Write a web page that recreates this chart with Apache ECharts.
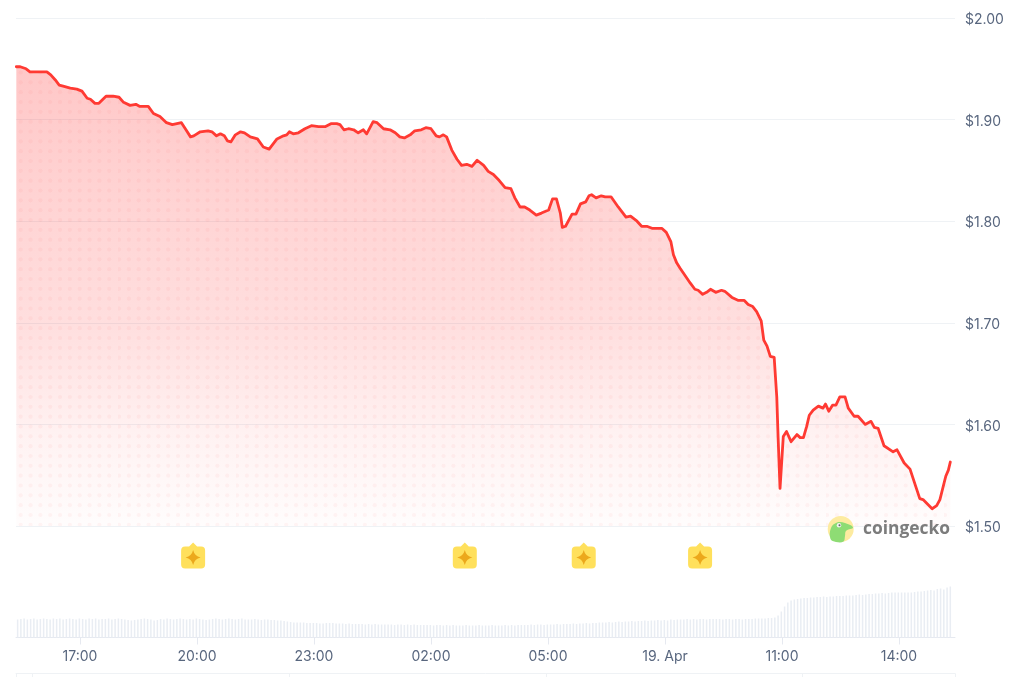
<!DOCTYPE html>
<html>
<head>
<meta charset="utf-8">
<style>html,body{margin:0;padding:0;background:#fff}#c{width:1024px;height:677px}</style>
<script src="https://cdn.jsdelivr.net/npm/echarts@6/dist/echarts.min.js"></script>
</head>
<body>
<div id="c"></div>
<script>
// minutes counted from 00:00 on 18 April
const priceTimes = [922,928,937,943,951,958,969,975,982,988,994,1005,1015,1023,1031,1036,1043,1049,1060,1071,1080,1087,1097,1106,1112,1125,1133,1143,1153,1162,1169,1176,1183,1190,1195,1205,1217,1223,1230,1236,1242,1247,1252,1259,1267,1273,1282,1293,1302,1311,1323,1333,1338,1342,1348,1356,1366,1376,1387,1397,1406,1415,1420,1426,1433,1441,1448,1456,1461,1471,1477,1487,1497,1505,1512,1519,1528,1535,1545,1552,1560,1568,1573,1579,1584,1592,1600,1607,1615,1623,1631,1641,1648,1656,1665,1674,1683,1689,1697,1704,1712,1722,1730,1741,1747,1753,1759,1762,1767,1777,1783,1790,1798,1803,1807,1814,1822,1828,1837,1848,1853,1860,1867,1877,1884,1892,1900,1915,1922,1929,1933,1938,1943,1959,1966,1971,1978,1984,1990,1998,2007,2012,2023,2033,2042,2048,2055,2061,2068,2072,2077,2082,2088,2092,2094,2097,2102,2107,2114,2117,2123,2128,2133,2138,2142,2148,2156,2163,2167,2172,2178,2183,2189,2197,2202,2211,2217,2228,2237,2242,2248,2257,2271,2277,2288,2297,2312,2317,2331,2338,2343,2352,2356,2359];
const prices = [1.952,1.952,1.950,1.947,1.947,1.947,1.947,1.944,1.939,1.934,1.933,1.931,1.930,1.928,1.921,1.920,1.916,1.916,1.923,1.923,1.922,1.917,1.914,1.915,1.913,1.913,1.906,1.903,1.897,1.895,1.896,1.897,1.890,1.883,1.884,1.888,1.889,1.888,1.884,1.886,1.884,1.879,1.878,1.885,1.888,1.887,1.883,1.881,1.873,1.871,1.881,1.884,1.885,1.888,1.886,1.887,1.891,1.894,1.893,1.893,1.896,1.896,1.895,1.890,1.891,1.890,1.887,1.890,1.886,1.898,1.897,1.891,1.890,1.887,1.883,1.882,1.885,1.889,1.890,1.892,1.891,1.884,1.883,1.885,1.883,1.870,1.861,1.855,1.856,1.854,1.860,1.855,1.849,1.846,1.840,1.833,1.832,1.823,1.814,1.814,1.811,1.806,1.808,1.811,1.822,1.822,1.808,1.794,1.795,1.807,1.807,1.817,1.819,1.825,1.826,1.823,1.825,1.824,1.824,1.814,1.810,1.804,1.805,1.800,1.795,1.795,1.793,1.793,1.789,1.780,1.767,1.759,1.754,1.739,1.733,1.732,1.728,1.730,1.733,1.730,1.732,1.731,1.725,1.722,1.722,1.718,1.716,1.711,1.702,1.683,1.677,1.667,1.666,1.627,1.588,1.537,1.588,1.593,1.583,1.582,1.590,1.587,1.587,1.598,1.609,1.614,1.618,1.616,1.620,1.613,1.619,1.619,1.627,1.627,1.616,1.608,1.608,1.600,1.603,1.597,1.596,1.579,1.573,1.575,1.562,1.556,1.527,1.526,1.517,1.520,1.526,1.549,1.555,1.563];
const volumes = [
18,18.5,19,18,18.5,19,18,18.5,19,18.5,18,19,
18.5,19,18,18.5,19,18.5,18,19,18.5,18,19,18.5,
19,18,18.5,18.5,19,18,18.5,19,18.5,18,17.5,17,
17.5,18,18.5,19,18.5,18,17,17.5,18.5,18,19,18.5,
18,18.5,19,18.5,18,18.5,18,19,18.5,18,17.5,18,
18.5,19,18.5,18,18.5,19,18.5,18,18.5,19,18,18,
18,18.5,18,17.5,18,18,17.5,17.5,17,17,16.5,16,
15.5,15,15,15,15,14.5,14.5,14.5,14.5,14,14,14.5,
14.5,14.5,14,14,14,13.5,14,13.5,13.5,13.5,13.5,13,
13.5,13,13.5,13,13,13,13,13,12.5,13,13,12.5,
13,12.5,13,12.5,12.5,12.5,12.5,12.5,12,12.5,12.5,12,
12.5,12,12.5,12,12,12,12.5,12,12,12,12.5,12,
12,12,12.5,12,12,12,12.5,12,12.5,12,12.5,12.5,
12.5,12.5,13,12.5,13,13,12.5,13,13,13,13.5,13,
13.5,13.5,13.5,14,13.5,14,14,14.5,14,14.5,14.5,15,
15,15,15.5,15,15.5,16,15.5,16,16,16.5,16,16.5,
16.5,17,16.5,17,17,17.5,17,17.5,17,18,17.5,18,
18,18,18.5,18,18.5,18,18.5,18.5,18,18.5,18.5,18.5,
18.5,18,18.5,18.5,18,18.5,18.5,18,18.5,18.5,18.5,19,
19,19,19,19.5,19.5,20,22,26,31,35,37,38,
38.5,39,39.5,39.5,40,40,40.5,40.5,41,40.5,41,41,
41.5,41.5,41.5,42,42,42,42.5,43,42.5,43,43.5,43.5,
44,44,44.5,44,44.5,45,45,45,45,45,45,45,
45.5,46,46,46.5,47,47.5,47,48.5,49,48,50,51];
const volumeStart = 924, volumeStep = 5;
const eventTimes = [1194,1612,1795,1974];
const tickTimes = [1020,1200,1380,1560,1740,1920,2100,2280];
const tickLabels = ['17:00','20:00','23:00','02:00','05:00','19. Apr','11:00','14:00'];
const navTimes = [922,946,1342,1737,2131,2366];
const axisMin = 921.5, axisMax = 2366.2;

const FONT = 'Inter';
const dots = document.createElement('canvas');
dots.width = 118; dots.height = 118;
(function () {
  const g = dots.getContext('2d');
  g.fillStyle = 'rgba(255,40,40,0.042)';
  for (let i = 0; i < 12; i++) for (let j = 0; j < 12; j++) {
    g.beginPath();
    g.arc(1.04 + i * 118 / 12, 3.65 + j * 118 / 12, 2.1, 0, Math.PI * 2);
    g.fill();
  }
})();

const pricePairs = priceTimes.map((t, i) => [t, prices[i]]);
const volumePairs = volumes.map((v, i) => [volumeStart + i * volumeStep, v]);
const hiddenX = (gridIndex) => ({ type: 'value', gridIndex, min: axisMin, max: axisMax, show: false });
const pin = 'path://M12 0 L16 4 H20 Q24 4 24 8 V22 Q24 26 20 26 H4 Q0 26 0 22 V8 Q0 4 4 4 H8 Z';
const star = 'path://M8 0 Q9.5 6.5 16 8 Q9.5 9.5 8 16 Q6.5 9.5 0 8 Q6.5 6.5 8 0Z';

const chart = echarts.init(document.getElementById('c'), null, { renderer: 'canvas' });
chart.setOption({
  animation: false,
  backgroundColor: '#fff',
  grid: [
    { left: 16, width: 939, top: 18, height: 508 },
    { left: 16, width: 939, top: 540, height: 31 },
    { left: 16, width: 939, top: 585, height: 52.5 },
    { left: 16, width: 939, top: 673.5, height: 4 }
  ],
  xAxis: [
    hiddenX(0),
    hiddenX(1),
    {
      type: 'value', gridIndex: 2, min: axisMin, max: axisMax, position: 'bottom',
      splitLine: { show: false },
      axisLine: { show: true, onZero: false, lineStyle: { color: '#e6e9f0', width: 1 } },
      axisTick: { show: true, length: 7, customValues: tickTimes, lineStyle: { color: '#e6e9f0' } },
      axisLabel: {
        show: true, customValues: tickTimes, margin: 12, hideOverlap: false,
        color: '#58667e', fontFamily: FONT, fontSize: 14,
        formatter: (v) => tickLabels[tickTimes.indexOf(v)]
      }
    },
    {
      type: 'value', gridIndex: 3, min: axisMin, max: axisMax, position: 'top',
      splitLine: { show: false },
      axisLine: { show: true, onZero: false, lineStyle: { color: '#eff2f5', width: 1 } },
      axisTick: { show: true, inside: true, length: 4, customValues: navTimes, lineStyle: { color: '#eff2f5' } },
      axisLabel: { show: false }
    }
  ],
  yAxis: [
    {
      type: 'value', gridIndex: 0, min: 1.5, max: 2, interval: 0.1, position: 'right',
      axisLine: { show: false }, axisTick: { show: false },
      splitLine: { show: true, lineStyle: { color: '#eff2f5', width: 1 } },
      axisLabel: { margin: 10, verticalAlign: 'top', lineHeight: 4, color: '#58667e', fontFamily: FONT, fontSize: 14, formatter: (v) => '$' + v.toFixed(2) }
    },
    { type: 'value', gridIndex: 1, min: 0, max: 1, show: false },
    { type: 'value', gridIndex: 2, min: 0, max: 52.5, show: false },
    { type: 'value', gridIndex: 3, min: 0, max: 1, show: false }
  ],
  series: [
    {
      type: 'line', xAxisIndex: 0, yAxisIndex: 0, data: pricePairs, showSymbol: false, silent: true, z: 2,
      lineStyle: { width: 0 },
      areaStyle: {
        opacity: 1,
        color: new echarts.graphic.LinearGradient(0, 0, 0, 1, [
          { offset: 0, color: 'rgba(255,40,40,0.26)' },
          { offset: 0.57, color: 'rgba(255,40,40,0.15)' },
          { offset: 0.81, color: 'rgba(255,40,40,0.06)' },
          { offset: 1, color: 'rgba(255,40,40,0.01)' }
        ])
      }
    },
    {
      type: 'line', xAxisIndex: 0, yAxisIndex: 0, data: pricePairs, showSymbol: false, silent: true, z: 3,
      lineStyle: { width: 0 },
      areaStyle: { opacity: 1, color: { image: dots, repeat: 'repeat' } }
    },
    {
      type: 'line', xAxisIndex: 0, yAxisIndex: 0, data: pricePairs, showSymbol: false, silent: true, z: 4,
      lineStyle: { color: '#ff3a33', width: 2.8, join: 'round', cap: 'round' }
    },
    {
      type: 'bar', xAxisIndex: 2, yAxisIndex: 2, data: volumePairs, barWidth: 1.5, silent: true,
      itemStyle: { color: '#e9edf3' }
    },
    {
      type: 'scatter', xAxisIndex: 1, yAxisIndex: 1, data: eventTimes.map((t) => [t, 0.5]), silent: true,
      symbol: pin, symbolSize: [24, 26], itemStyle: { color: '#ffe05c', opacity: 1 }, z: 5
    },
    {
      type: 'scatter', xAxisIndex: 1, yAxisIndex: 1, data: eventTimes.map((t) => [t, 0.5]), silent: true,
      symbol: star, symbolSize: 15, symbolOffset: [0, 2], itemStyle: { color: '#eca81c', opacity: 1 }, z: 6
    }
  ],
  graphic: [
    { type: 'circle', z: 20, shape: { cx: 840.7, cy: 529, r: 13 }, style: { fill: '#fdeba0' } },
    { type: 'polygon', z: 21, shape: { smooth: 0.4, points: [[830.5,539],[831,528],[837,522.5],[845,523],[853,527.5],[846,531],[845,536],[843.5,541.5],[836,542]] }, style: { fill: '#8edc74' } },
    { type: 'circle', z: 22, shape: { cx: 839, cy: 525.3, r: 2.2 }, style: { fill: '#f4f4f4' } },
    { type: 'circle', z: 23, shape: { cx: 839.5, cy: 525.3, r: 1 }, style: { fill: '#666' } },
    { type: 'text', z: 22, left: 863, top: 520.5, style: { text: 'coingecko', fill: '#7c7c7c', font: '700 17.4px "Open Sans"' } }
  ]
});
</script>
</body>
</html>
